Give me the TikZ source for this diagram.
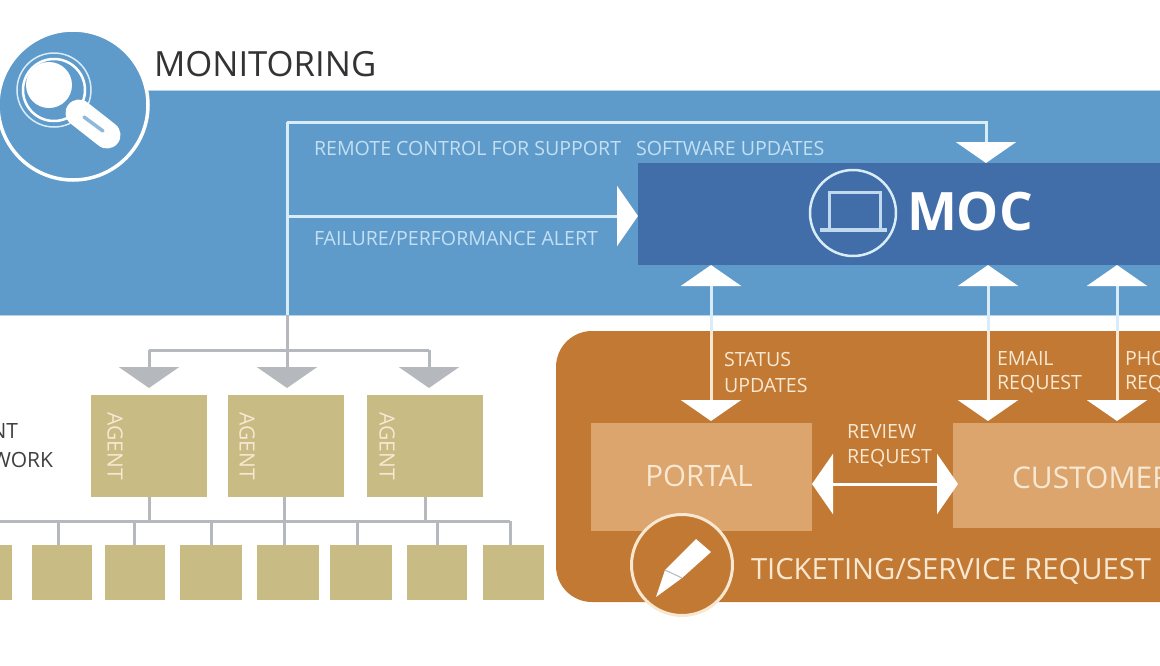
\documentclass[tikz,border=0pt]{standalone}
\usepackage{fontspec}
\setmainfont{Open Sans}
\usepackage{tikz}
\usetikzlibrary{arrows.meta}

\definecolor{BandBlue}{HTML}{5F9BCA}
\definecolor{MocBlue}{HTML}{416EA8}
\definecolor{PaleBlue}{HTML}{D8ECFA}
\definecolor{TextBlue}{HTML}{C3DFF3}
\definecolor{TicketOrange}{HTML}{C27933}
\definecolor{BoxOrange}{HTML}{DBA56D}
\definecolor{Cream}{HTML}{F8E8D2}
\definecolor{AgentTan}{HTML}{C9BB84}
\definecolor{LineGray}{HTML}{B5B9BD}

\begin{document}
\begin{tikzpicture}[x=1pt,y=-1pt,
  every node/.style={inner sep=0pt,outer sep=0pt},
  flatbox/.style={rectangle,minimum width=#1,anchor=north west},
  bluetext/.style={TextBlue,anchor=west,font=\fontsize{19.6}{24}\selectfont},
  ordertext/.style={Cream,anchor=west,font=\fontsize{19.6}{24}\selectfont},
  agenttext/.style={Cream,rotate=-90,font=\fontsize{21}{24}\selectfont},
  paleline/.style={PaleBlue,line width=3pt},
  creamline/.style={Cream,line width=3pt},
  grayline/.style={LineGray,line width=3pt},
  graytip/.style={-{Stealth[length=21pt,width=60pt,inset=0pt]}},
  bigtip/.style={-{Stealth[length=21pt,width=60pt,inset=0pt,color=white]}},
  twotip/.style={{Stealth[length=21pt,width=60pt,inset=0pt,color=white]}-{Stealth[length=21pt,width=60pt,inset=0pt,color=white]}}]

\useasboundingbox (0,0) rectangle (1160,665);
\clip (0,0) rectangle (1160,665);

\node[flatbox=1180pt,minimum height=225pt,fill=BandBlue,draw=PaleBlue!70!BandBlue,line width=1pt] (band) at (-10,90) {};
\node[flatbox=540pt,minimum height=102pt,fill=MocBlue] (moc) at (638,163) {};
\node[draw=white,line width=3.5pt,fill=BandBlue,circle,minimum size=150pt] (lensdisc) at (73,105) {};
\node[flatbox=700pt,minimum height=271pt,rounded corners=36pt,fill=TicketOrange] (ticket) at (556,331) {};

\node[flatbox=221pt,minimum height=108pt,fill=BoxOrange] (portal) at (591,423) {};
\node[flatbox=300pt,minimum height=105pt,fill=BoxOrange] (customer) at (953,423) {};

\node[flatbox=116pt,minimum height=102pt,fill=AgentTan] (agentone) at (91,395) {};
\node[flatbox=116pt,minimum height=102pt,fill=AgentTan] (agenttwo) at (228,395) {};
\node[flatbox=116pt,minimum height=102pt,fill=AgentTan] (agentthree) at (367,395) {};

\node[flatbox=62pt,minimum height=55pt,fill=AgentTan] (boxa) at (-50,545) {};
\node[flatbox=60pt,minimum height=55pt,fill=AgentTan] (boxb) at (32,545) {};
\node[flatbox=60pt,minimum height=55pt,fill=AgentTan] (boxc) at (105,545) {};
\node[flatbox=62pt,minimum height=55pt,fill=AgentTan] (boxd) at (180,545) {};
\node[flatbox=62pt,minimum height=55pt,fill=AgentTan] (boxe) at (257,545) {};
\node[flatbox=62pt,minimum height=55pt,fill=AgentTan] (boxf) at (330,545) {};
\node[flatbox=60pt,minimum height=55pt,fill=AgentTan] (boxg) at (407,545) {};
\node[flatbox=61pt,minimum height=55pt,fill=AgentTan] (boxh) at (483,545) {};

\coordinate (trunktop) at (287,122);
\coordinate (trunkalert) at (287,216);
\coordinate (trunkedge) at (287,315);
\coordinate (grayfork) at (287,350);
\coordinate (grayleft) at (149,350);
\coordinate (grayright) at (429,350);
\coordinate (updatetip) at (986,163);
\coordinate (alerttip) at (638,216);
\coordinate (tipone) at (149,388);
\coordinate (tiptwo) at (287,388);
\coordinate (tipthree) at (429,388);

\draw[paleline] (trunkedge) -- (trunktop);
\draw[paleline,bigtip] (trunktop) -| (updatetip);
\draw[paleline,bigtip] (trunkalert) -- (alerttip);

\draw[grayline] (grayleft) -- (grayright);
\draw[grayline] (trunkedge) -- (grayfork);
\draw[grayline,graytip] (grayleft) -- (tipone);
\draw[grayline,graytip] (grayfork) -- (tiptwo);
\draw[grayline,graytip] (grayright) -- (tipthree);

\coordinate (statusup) at (711,265);
\coordinate (statusdown) at (711,421);
\coordinate (emailup) at (988,265);
\coordinate (emaildown) at (988,421);
\coordinate (phoneup) at (1117,265);
\coordinate (phonedown) at (1117,421);
\coordinate (reviewleft) at (812,484);
\coordinate (reviewright) at (958,484);

\draw[paleline,twotip] (statusup) -- (statusdown);
\draw[paleline,twotip] (emailup) -- (emaildown);
\draw[paleline,twotip] (phoneup) -- (phonedown);
\draw[white,line width=3pt,twotip] (reviewleft) -- (reviewright);

\draw[creamline] (711,331) -- (711,400);
\draw[creamline] (988,331) -- (988,400);
\draw[creamline] (1117,331) -- (1117,400);

\coordinate (busleft) at (0,521);
\coordinate (busright) at (510,521);
\coordinate (dropb) at (58,521);
\coordinate (dropc) at (134,521);
\coordinate (dropd) at (211,521);
\coordinate (drope) at (284,521);
\coordinate (dropf) at (357,521);
\coordinate (dropg) at (437,521);
\coordinate (droph) at (510,521);

\draw[grayline] (busleft) -- (busright);
\draw[grayline] (agentone.south) -- (agentone.south |- busleft);
\draw[grayline] (drope |- agenttwo.south) -- (drope);
\draw[grayline] (agentthree.south) -- (agentthree.south |- busleft);
\draw[grayline] (dropb) -- (dropb |- boxb.north);
\draw[grayline] (dropc) -- (dropc |- boxc.north);
\draw[grayline] (dropd) -- (dropd |- boxd.north);
\draw[grayline] (drope) -- (drope |- boxe.north);
\draw[grayline] (dropf) -- (dropf |- boxf.north);
\draw[grayline] (dropg) -- (dropg |- boxg.north);
\draw[grayline] (droph) -- (droph |- boxh.north);

\node[anchor=west,text=black!80,font=\fontsize{34.7}{40}\selectfont] (monitoring) at (154,64) {MONITORING};
\node[bluetext] (remote) at (314,148) {REMOTE CONTROL FOR SUPPORT};
\node[bluetext] (software) at (636,148) {SOFTWARE UPDATES};
\node[bluetext] (alert) at (314,238) {FAILURE/PERFORMANCE ALERT};

\node[circle,draw=PaleBlue,line width=2.5pt,minimum size=86pt] (mocring) at (853,213) {};
\node[anchor=west,white,font=\fontsize{53}{54}\selectfont\bfseries] (moclabel) at (907,212) {MOC};
\draw[PaleBlue!85!MocBlue,line width=3pt] (829,228) -- (829,192) -- (880,192) -- (880,228);
\draw[PaleBlue!85!MocBlue,line width=3.5pt] (820,230) -- (887,230);

\draw[PaleBlue,line width=1.5pt] (54,90) circle (37);
\draw[white,line width=2.5pt] (54,90) circle (31);
\fill[white] (49,85) circle (23);
\draw[white,line width=27pt,line cap=round] (79,113) -- (107,135);
\draw[BandBlue!70!white,line width=3.5pt,line cap=round] (84,117) -- (103,131);

\node[ordertext] (statusa) at (724,359) {STATUS};
\node[ordertext] (statusb) at (724,385) {UPDATES};
\node[ordertext] (emaila) at (997,358) {EMAIL};
\node[ordertext] (emailb) at (997,384) {REQUEST};
\node[ordertext] (phonea) at (1125,358) {PHO};
\node[ordertext] (phoneb) at (1125,384) {REQ};
\node[ordertext] (reviewa) at (847,431) {REVIEW};
\node[ordertext] (reviewb) at (847,458) {REQUEST};

\node[Cream,font=\fontsize{29.5}{34}\selectfont] (portallabel) at (699,476) {PORTAL};
\node[anchor=west,Cream,font=\fontsize{30}{34}\selectfont] (customerlabel) at (1012,478) {CUSTOMER};

\node[circle,draw=Cream,line width=3pt,fill=TicketOrange,minimum size=101pt] (penring) at (682,565) {};
\fill[white] (656,597) -- (665,570) -- (696,539) -- (711,552) -- (682,578) -- cycle;
\draw[LineGray,line width=1pt] (665,570) -- (682,578);
\node[anchor=west,Cream,font=\fontsize{29.2}{34}\selectfont] (ticketing) at (751,571) {TICKETING/SERVICE REQUEST};

\node[agenttext] (agenta) at (115,446) {AGENT};
\node[agenttext] (agentb) at (247,446) {AGENT};
\node[agenttext] (agentc) at (387,446) {AGENT};

\node[anchor=east,text=black!75,font=\fontsize{21}{24}\selectfont] (netone) at (18,431) {NT};
\node[anchor=east,text=black!75,font=\fontsize{21}{24}\selectfont] (nettwo) at (53,460) {WORK};
\end{tikzpicture}
\end{document}
